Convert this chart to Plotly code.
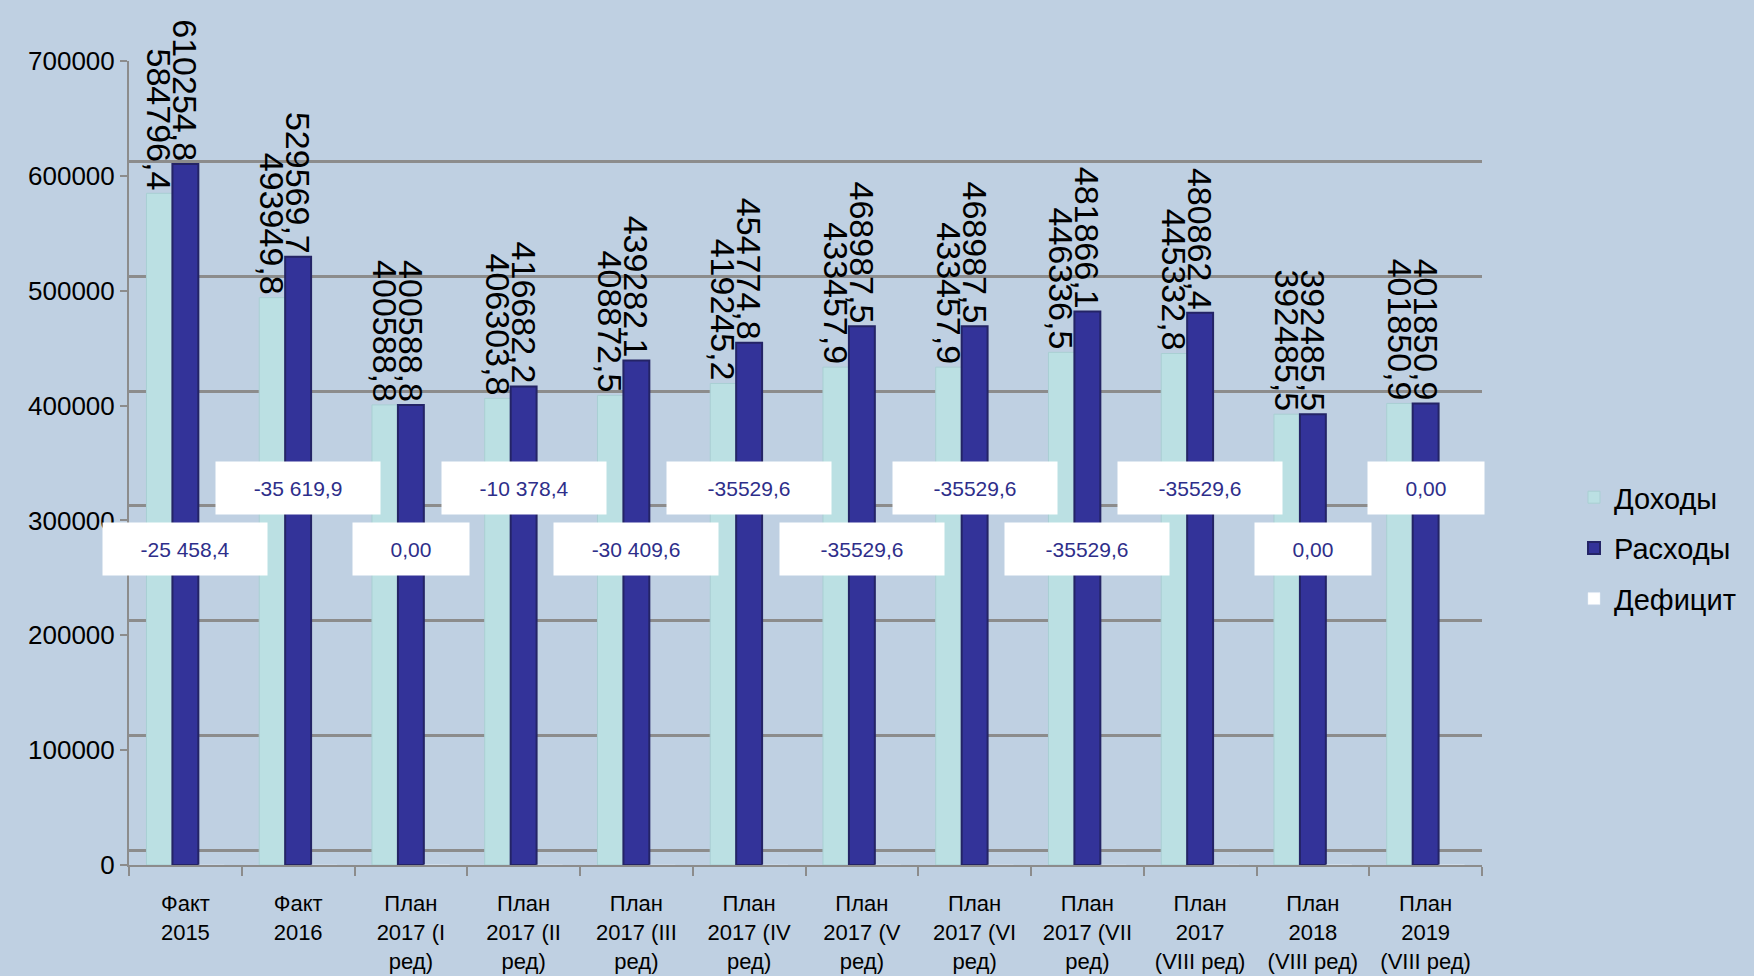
import plotly.graph_objects as go

categories = ["Факт<br>2015", "Факт<br>2016", "План<br>2017 (I<br>ред)", "План<br>2017 (II<br>ред)",
              "План<br>2017 (III<br>ред)", "План<br>2017 (IV<br>ред)", "План<br>2017 (V<br>ред)",
              "План<br>2017 (VI<br>ред)", "План<br>2017 (VII<br>ред)", "План<br>2017<br>(VIII ред)",
              "План<br>2018<br>(VIII ред)", "План<br>2019<br>(VIII ред)"]
dohody = [584796.4, 493949.8, 400588.8, 406303.8, 408872.5, 419245.2, 433457.9, 433457.9,
          446336.5, 445332.8, 392485.5, 401850.9]
rashody = [610254.8, 529569.7, 400588.8, 416682.2, 439282.1, 454774.8, 468987.5, 468987.5,
           481866.1, 480862.4, 392485.5, 401850.9]
deficit = [-25458.4, -35619.9, 0.0, -10378.4, -30409.6, -35529.6, -35529.6, -35529.6,
           -35529.6, -35529.6, 0.0, 0.0]
deficit_labels = ["-25 458,4", "-35 619,9", "0,00", "-10 378,4", "-30 409,6", "-35529,6",
                  "-35529,6", "-35529,6", "-35529,6", "-35529,6", "0,00", "0,00"]
yticks = [0, 100000, 200000, 300000, 400000, 500000, 600000, 700000]


def fmt(v):
    return f"{v:.1f}".replace(".", ",")


BG = "#BFD0E2"
FONT = "Arial, Liberation Sans, sans-serif"

fig = go.Figure()
fig.add_trace(go.Bar(
    name="Доходы", x=categories, y=dohody, legendgroup="a",
    marker=dict(color="#BBE0E3", line=dict(color="#A9CFD3", width=1)),
    text=[fmt(v) for v in dohody], textposition="outside", textangle=90,
    constraintext="none", cliponaxis=False,
    textfont=dict(family=FONT, size=34, color="#000000"),
))
fig.add_trace(go.Bar(
    name="Расходы", x=categories, y=rashody, legendgroup="b",
    marker=dict(color="#333399", line=dict(color="#242466", width=2)),
    text=[fmt(v) for v in rashody], textposition="outside", textangle=90,
    constraintext="none", cliponaxis=False,
    textfont=dict(family=FONT, size=34, color="#000000"),
))
fig.add_trace(go.Bar(
    name="Дефицит", x=categories, y=deficit, legendgroup="c",
    marker=dict(color="#FFFFFF"),
))

# deficit data labels in white boxes, alternating heights
for i, (c, lbl) in enumerate(zip(categories, deficit_labels)):
    ylab = 275000 if i % 2 == 0 else 328000
    fig.add_annotation(
        x=c, y=ylab, text=lbl, showarrow=False,
        bgcolor="#FFFFFF", borderpad=0,
        width=164 if len(lbl) > 5 else 116, height=52,
        font=dict(family=FONT, size=21, color="#2E2E8A"),
        xanchor="center", yanchor="middle",
    )

plot_h = 865 - 61
shift = 14.5 / plot_h * 700000

fig.update_layout(
    width=1754, height=976,
    paper_bgcolor=BG, plot_bgcolor=BG,
    margin=dict(l=129, r=272, t=61, b=111),
    barmode="group", bargap=0.31, bargroupgap=0.0,
    font=dict(family=FONT, color="#000000"),
    xaxis=dict(
        range=[-0.5, len(categories) - 0.5], automargin=False,
        showgrid=False, showline=True, linecolor="#8C8C8C", linewidth=2,
        ticks="outside", tickson="boundaries", ticklen=9, tickcolor="#8C8C8C", tickwidth=2,
        tickfont=dict(family=FONT, size=22, color="#000000"),
        ticklabelstandoff=18,
    ),
    yaxis=dict(
        range=[0, 700000], tickvals=yticks, tickformat="d",
        showgrid=False, zeroline=False, showline=True, linecolor="#8C8C8C", linewidth=2,
        ticks="outside", ticklen=7, tickcolor="#8C8C8C", tickwidth=2,
        tickfont=dict(family=FONT, size=26, color="#000000"),
    ),
    yaxis2=dict(
        overlaying="y", range=[-shift, 700000 - shift], tickvals=yticks,
        showgrid=True, gridcolor="#8C8C8C", gridwidth=2.5, showticklabels=False,
        zeroline=False, showline=False,
    ),
    legend=dict(
        x=1.068, y=0.489, xanchor="left", yanchor="top",
        font=dict(family=FONT, size=29, color="#000000"),
        bgcolor="rgba(0,0,0,0)", tracegroupgap=10,
    ),
    showlegend=True,
)
# invisible helper trace so the shifted back-wall gridlines are drawn
fig.add_trace(go.Scatter(x=[categories[0]], y=[0], yaxis="y2", mode="markers",
                         marker=dict(opacity=0), showlegend=False, hoverinfo="skip"))

fig.write_html("out.html", config={"displayModeBar": False},
               post_script="document.body.style.margin='0';")
